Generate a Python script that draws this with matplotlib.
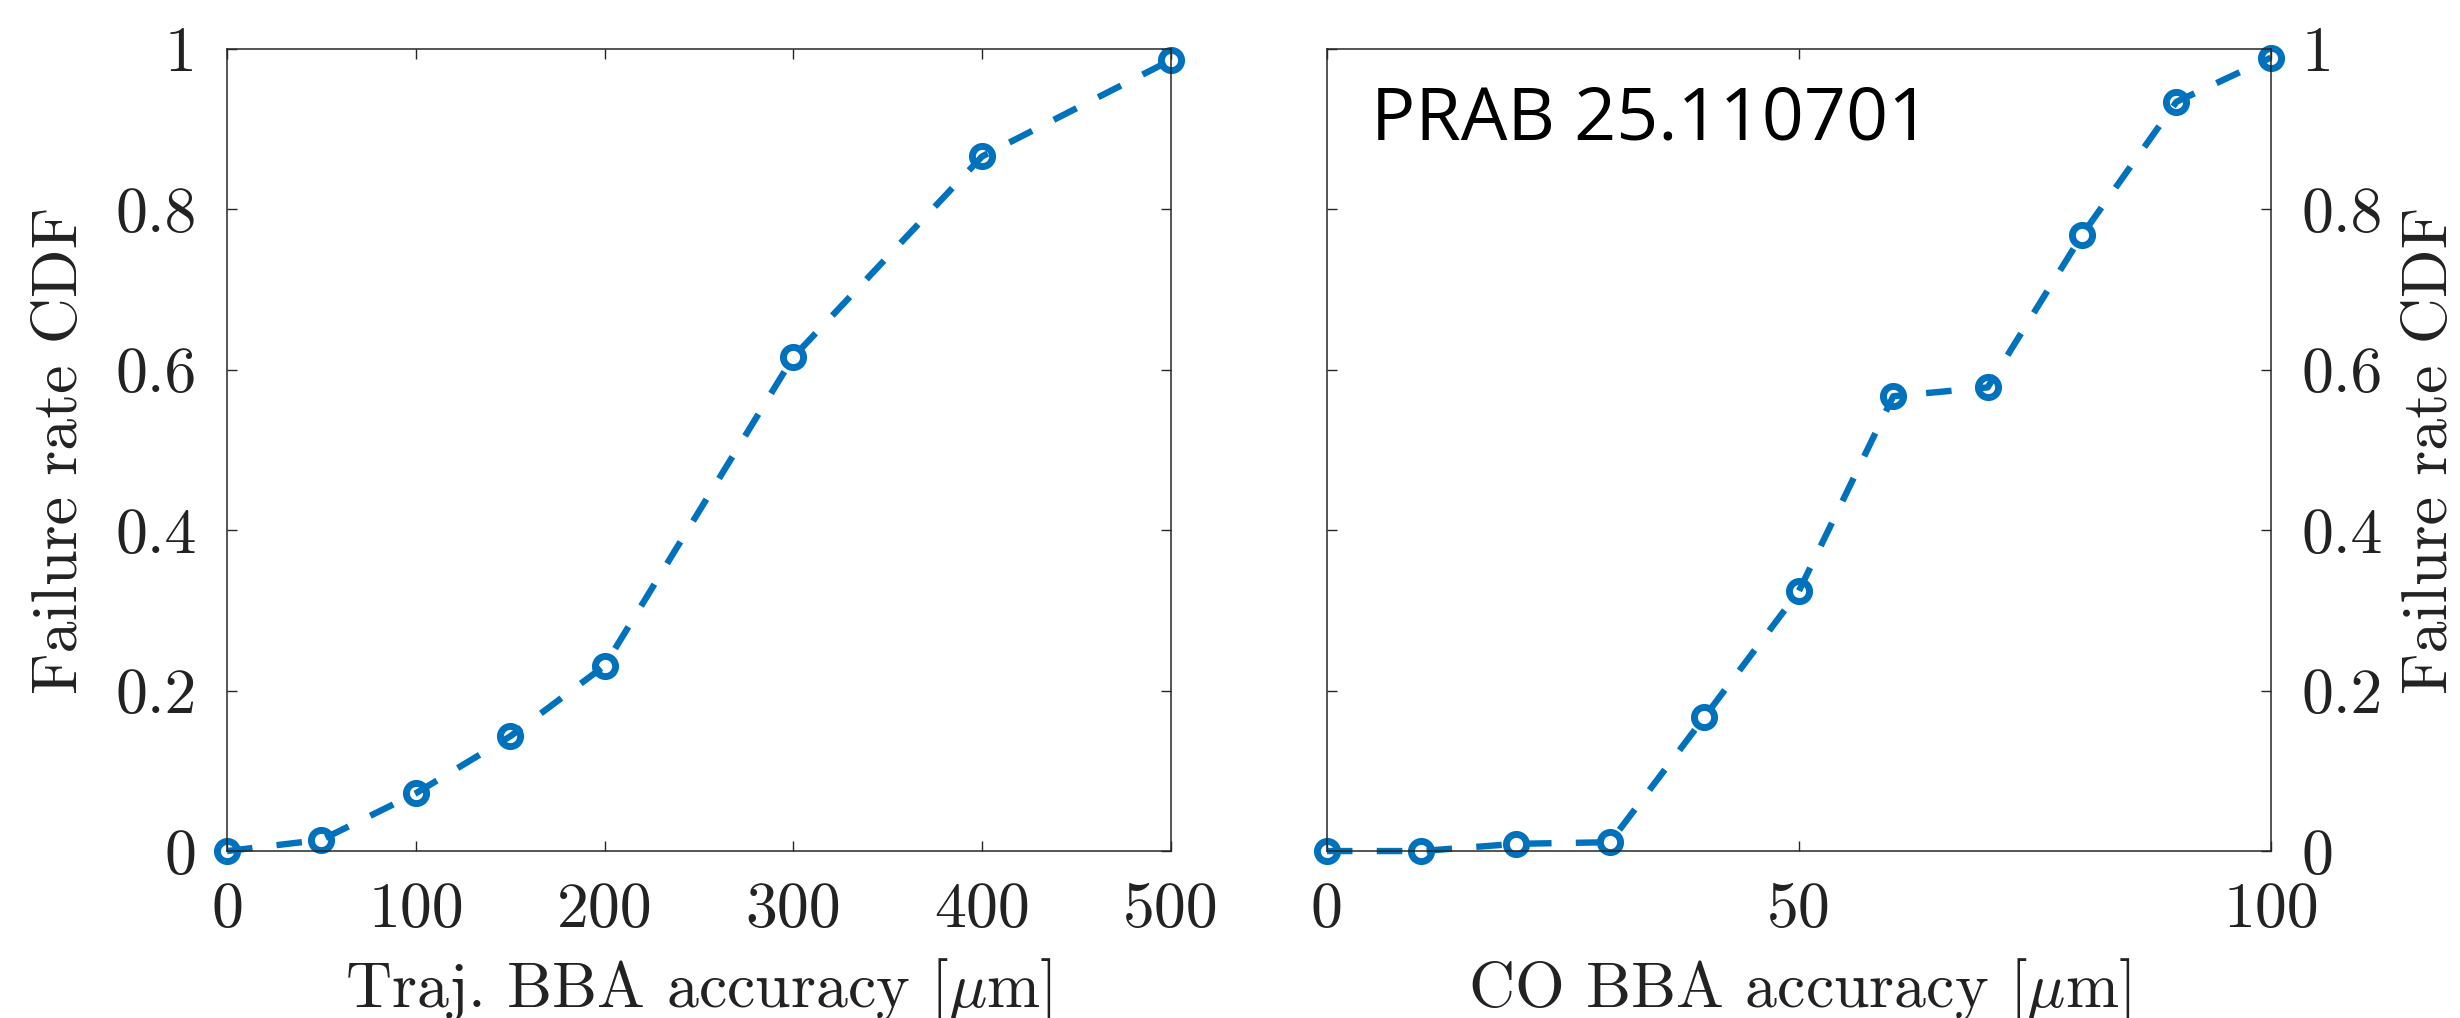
import matplotlib
matplotlib.use("Agg")
from matplotlib import pyplot as plt
from matplotlib.ticker import FixedLocator, FuncFormatter
from typing import List

# Failure-rate CDF versus BBA accuracy
traj_accuracy: List[float] = [0, 50, 100, 150, 200, 300, 400, 500]
traj_cdf: List[float] = [0.0, 0.014, 0.072, 0.143, 0.231, 0.616, 0.866, 0.986]

co_accuracy: List[float] = [0, 10, 20, 30, 40, 50, 60, 70, 80, 90, 100]
co_cdf: List[float] = [0.0, 0.0, 0.009, 0.011, 0.167, 0.324, 0.567, 0.578, 0.768, 0.934, 0.989]

traj_ticks: List[int] = [0, 100, 200, 300, 400, 500]
co_ticks: List[int] = [0, 50, 100]
cdf_ticks: List[float] = [0, 0.2, 0.4, 0.6, 0.8, 1]

BLUE = '#0072BD'
AXIS_GREY = '#262626'

plt.rcParams['font.family'] = 'serif'
plt.rcParams['font.serif'] = ['cmr10']
plt.rcParams['mathtext.fontset'] = 'cm'
plt.rcParams['axes.unicode_minus'] = False


def style_axes(ax, xticks, xmax) -> None:
    ax.set_xlim(0, xmax)
    ax.set_ylim(0, 1)
    ax.xaxis.set_major_locator(FixedLocator(xticks))
    ax.yaxis.set_major_locator(FixedLocator(cdf_ticks))
    ax.yaxis.set_major_formatter(FuncFormatter(lambda v, _: f'{v:g}'))
    ax.xaxis.set_major_formatter(FuncFormatter(lambda v, _: f'{v:g}'))
    ax.tick_params(direction='in', length=7, width=1.0, colors=AXIS_GREY,
                   labelcolor='#222222', labelsize=46, pad=22,
                   top=True, right=True)
    for spine in ax.spines.values():
        spine.set_color(AXIS_GREY)
        spine.set_linewidth(1.1)


def draw_cdf(ax, x, y) -> None:
    ax.plot(x, y, color=BLUE, linewidth=4.6, linestyle=(0, (4.0, 3.8)),
            marker='o', markersize=14.5, markerfacecolor='none',
            markeredgewidth=5.0, markeredgecolor=BLUE, clip_on=False)


fig = plt.figure(figsize=(24.6, 10.18), dpi=100)
ax_left = fig.add_axes([0.0923, 0.164, 0.3837, 0.788])
ax_right = fig.add_axes([0.5394, 0.164, 0.3837, 0.788])

draw_cdf(ax_left, traj_accuracy, traj_cdf)
style_axes(ax_left, traj_ticks, 500)
ax_left.set_xlabel(r'Traj. BBA accuracy [$\mu$m]', fontsize=46, color='#222222', labelpad=12)
ax_left.set_ylabel('Failure rate CDF', fontsize=46, color='#222222', labelpad=18)

draw_cdf(ax_right, co_accuracy, co_cdf)
style_axes(ax_right, co_ticks, 100)
ax_right.yaxis.tick_right()
ax_right.tick_params(left=True, right=True, labelleft=False, labelright=True)
ax_right.yaxis.set_label_position('right')
ax_right.set_xlabel(r'CO BBA accuracy [$\mu$m]', fontsize=46, color='#222222', labelpad=12)
ax_right.set_ylabel('Failure rate CDF', fontsize=46, color='#222222', labelpad=14)

ax_right.text(0.047, 0.887, 'PRAB 25.110701', transform=ax_right.transAxes,
              fontsize=53, family='Open Sans', color='black', ha='left', va='baseline')

fig.savefig('out.png', dpi=100)
